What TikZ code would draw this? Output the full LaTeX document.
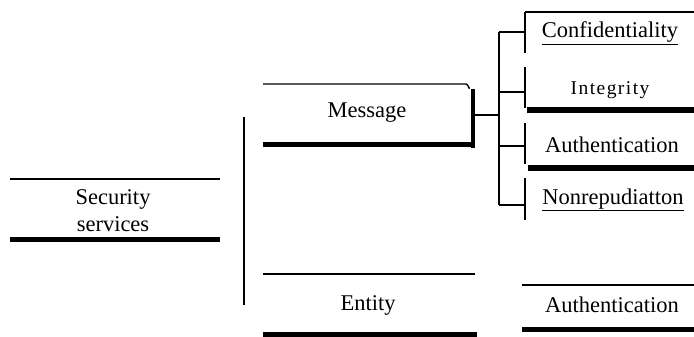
\documentclass[tikz,border=0pt]{standalone}
\usepackage{fontspec}
\setmainfont{Liberation Serif}
\newfontfamily\spacedfont[LetterSpace=7.5]{Liberation Serif}
\begin{document}
\begin{tikzpicture}[x=1bp,y=-1bp,
  lbl/.style={inner sep=0pt,font=\fontsize{22.5bp}{27bp}\selectfont},
  thinline/.style={line width=1.4bp},
  thickline/.style={line width=5.5bp},
  conn/.style={line width=1.6bp}]
\useasboundingbox (0,0) rectangle (694,336);
% Security services
\draw[thinline] (10,179) -- (220,179);
\draw[thickline] (10,239.5) -- (220,239.5);
\node[lbl,align=center] (sec) at (113,211) {Security\\services};
% big vertical bar
\draw[line width=2.5bp] (244,117) -- (244,305);
% Message
\draw[thinline] (263,84) -- (466,84) to[out=0,in=-90] (469.5,88);
\draw[line width=4.5bp] (473,89) -- (473,148);
\draw[thickline] (263,144.5) -- (472,144.5);
\node[lbl] (msg) at (367,113) {Message};
\coordinate (msgR) at (475,115);
\coordinate (spine) at (499,115);
\draw[conn] (msgR) -- (spine);
% spine
\coordinate (sTop) at (499,32);
\coordinate (sBot) at (499,205);
\draw[line width=2bp] (sTop) -- (sBot);
% branch coordinates
\coordinate (b1) at (525,32);
\coordinate (b2) at (525,92);
\coordinate (b3) at (525,146);
\coordinate (b4) at (525,205);
\draw[conn] (sTop) -- (b1);
\draw[conn] (499,92) -- (b2);
\draw[conn] (499,146) -- (b3);
\draw[conn] (sBot) -- (b4);
% left sides of right boxes
\draw[thinline] (525,12) -- (525,53);
\draw[thinline] (525,67) -- (525,108);
\draw[thinline] (525,123) -- (525,164);
\draw[thinline] (525,178) -- (525,220);
% Confidentiality
\draw[thinline] (525,12) -- (694,12);
\node[lbl] (conf) at (610,33) {\underline{Confidentiality}};
% Integrity
\node[inner sep=0pt,font=\spacedfont\fontsize{19.5bp}{24bp}\selectfont] (integ) at (610,90) {Integrity};
\draw[thickline] (527,110) -- (694,110);
% Authentication
\node[lbl] (auth) at (612,145) {Authentication};
\draw[thickline] (528,168) -- (694,168);
% Nonrepudiatton
\node[lbl] (nonrep) at (613,200) {\underline{Nonrepudiatton}};
% Entity
\draw[line width=2bp] (263,274) -- (475,274);
\draw[line width=5bp] (263,334) -- (477,334);
\node[lbl] (ent) at (368,305) {Entity};
% Entity Authentication
\draw[thinline] (522,285) -- (694,285);
\draw[line width=5bp] (522,329) -- (694,329);
\node[lbl] (eauth) at (612,305) {Authentication};
\end{tikzpicture}
\end{document}
